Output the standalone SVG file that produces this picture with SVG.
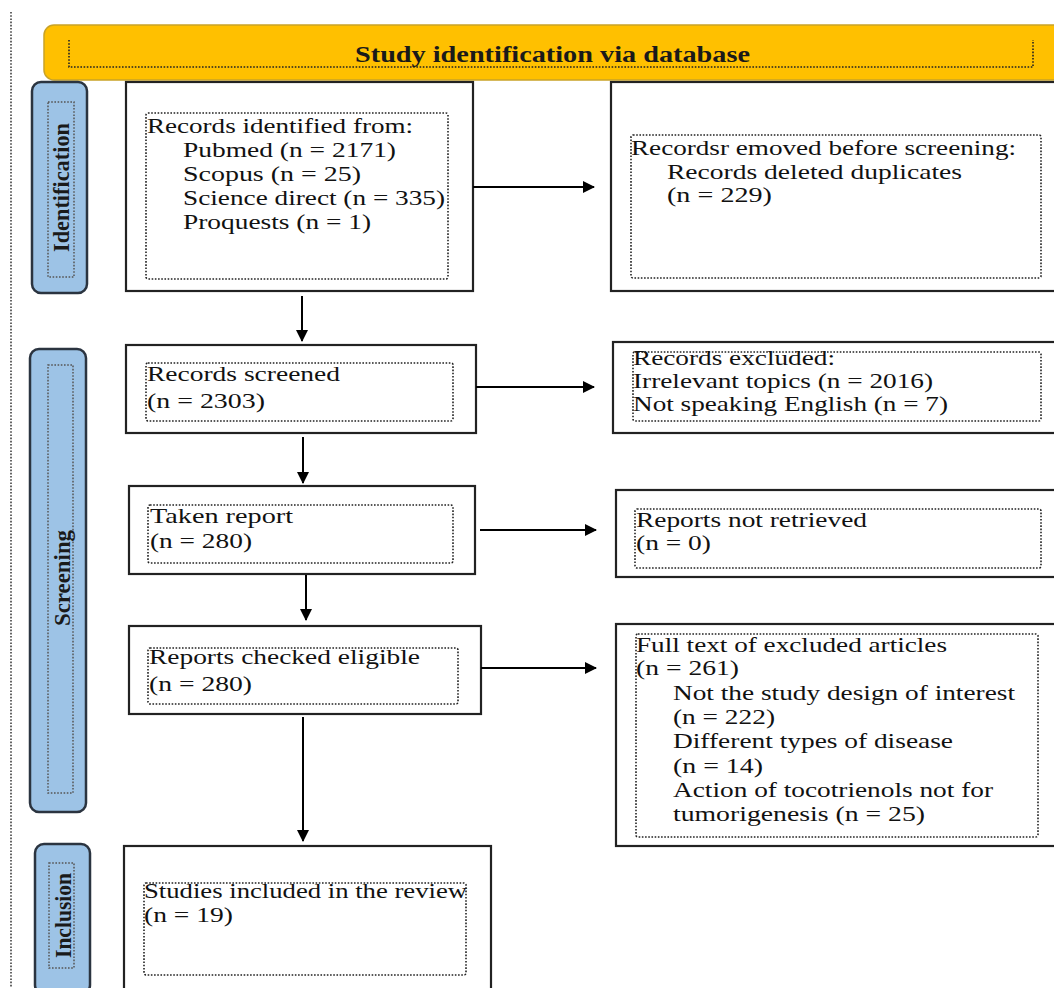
<svg xmlns="http://www.w3.org/2000/svg" width="1054" height="988" viewBox="0 0 1054 988">
<defs>
<style>
.box{fill:#fff;stroke:#222;stroke-width:2.2}
.inner{fill:none;stroke:#222;stroke-width:1.6;stroke-dasharray:1.6 1.6}
.side{fill:#9DC3E6;stroke:#2b3440;stroke-width:2.5}
.sinner{fill:none;stroke:#555;stroke-width:1.5;stroke-dasharray:1.6 1.6}
.t{font-family:"Liberation Serif","Times New Roman",serif;font-size:22px;fill:#111}
.st{font-family:"Liberation Serif","Times New Roman",serif;font-size:23px;font-weight:bold;fill:#1a1a1a}
.ht{font-family:"Liberation Serif","Times New Roman",serif;font-size:24px;font-weight:bold;fill:#1a1a1a}
.conn{stroke:#000;stroke-width:2;fill:none}
</style>
<marker id="ah" viewBox="0 0 12 12" refX="11" refY="6" markerWidth="12" markerHeight="12" markerUnits="userSpaceOnUse" orient="auto">
<path d="M0,0 L12,6 L0,12 Z" fill="#000"/>
</marker>
</defs>
<rect width="1054" height="988" fill="#fff"/>
<line x1="11" y1="12" x2="11" y2="988" stroke="#333" stroke-width="1.5" stroke-dasharray="1.6 1.6"/>

<g id="header">
<rect x="44" y="25" width="1030" height="55" rx="10" fill="#FFC000" stroke="#C9A227" stroke-width="1.5"/>
<path d="M69,40 V67 H1033 V40" class="inner"/>
<text class="ht" x="355" y="62" textLength="395" lengthAdjust="spacingAndGlyphs">Study identification via database</text>
</g>

<g id="side-identification">
<rect class="side" x="32" y="82" width="55" height="211" rx="9"/>
<rect class="sinner" x="48" y="102" width="26" height="175"/>
<text class="st" transform="translate(69,252) rotate(-90)" x="0" y="0" textLength="129" lengthAdjust="spacingAndGlyphs">Identification</text>
</g>
<g id="side-screening">
<rect class="side" x="30" y="349" width="56" height="463" rx="9"/>
<rect class="sinner" x="48" y="365" width="25" height="428"/>
<text class="st" transform="translate(70,626) rotate(-90)" x="0" y="0" textLength="96" lengthAdjust="spacingAndGlyphs">Screening</text>
</g>
<g id="side-inclusion">
<rect class="side" x="35" y="844" width="55" height="150" rx="9"/>
<rect class="sinner" x="49" y="863" width="25" height="105"/>
<text class="st" transform="translate(71,958) rotate(-90)" x="0" y="0" textLength="85" lengthAdjust="spacingAndGlyphs">Inclusion</text>
</g>

<g id="records-identified">
<rect class="box" x="126" y="82" width="347" height="209"/>
<rect class="inner" x="146" y="113" width="302" height="166" rx="2"/>
<text class="t" x="147" y="133" textLength="266" lengthAdjust="spacingAndGlyphs">Records identified from:</text>
<text class="t" x="183" y="157" textLength="213" lengthAdjust="spacingAndGlyphs">Pubmed (n = 2171)</text>
<text class="t" x="183" y="181" textLength="178" lengthAdjust="spacingAndGlyphs">Scopus (n = 25)</text>
<text class="t" x="183" y="205" textLength="262" lengthAdjust="spacingAndGlyphs">Science direct (n = 335)</text>
<text class="t" x="183" y="229" textLength="188" lengthAdjust="spacingAndGlyphs">Proquests (n = 1)</text>
</g>

<g id="records-removed">
<rect class="box" x="611" y="82" width="460" height="209"/>
<rect class="inner" x="631" y="135" width="410" height="143" rx="2"/>
<text class="t" x="631" y="155" textLength="385" lengthAdjust="spacingAndGlyphs">Recordsr emoved before screening:</text>
<text class="t" x="667" y="179" textLength="295" lengthAdjust="spacingAndGlyphs">Records deleted duplicates</text>
<text class="t" x="667" y="202" textLength="105" lengthAdjust="spacingAndGlyphs">(n = 229)</text>
</g>

<g id="records-screened">
<rect class="box" x="126" y="345" width="350" height="88"/>
<rect class="inner" x="146" y="363" width="307" height="58" rx="2"/>
<text class="t" x="147" y="381" textLength="193" lengthAdjust="spacingAndGlyphs">Records screened</text>
<text class="t" x="147" y="408" textLength="118" lengthAdjust="spacingAndGlyphs">(n = 2303)</text>
</g>

<g id="records-excluded">
<rect class="box" x="613" y="342" width="460" height="91"/>
<rect class="inner" x="633" y="352" width="408" height="69" rx="2"/>
<text class="t" x="633" y="365" textLength="202" lengthAdjust="spacingAndGlyphs">Records excluded:</text>
<text class="t" x="633" y="388" textLength="300" lengthAdjust="spacingAndGlyphs">Irrelevant topics (n = 2016)</text>
<text class="t" x="633" y="411" textLength="315" lengthAdjust="spacingAndGlyphs">Not speaking English (n = 7)</text>
</g>

<g id="taken-report">
<rect class="box" x="129" y="486" width="346" height="88"/>
<rect class="inner" x="148" y="505" width="305" height="58" rx="2"/>
<text class="t" x="150" y="523" textLength="143" lengthAdjust="spacingAndGlyphs">Taken report</text>
<text class="t" x="150" y="548" textLength="102" lengthAdjust="spacingAndGlyphs">(n = 280)</text>
</g>

<g id="reports-not-retrieved">
<rect class="box" x="616" y="490" width="460" height="87"/>
<rect class="inner" x="635" y="509" width="406" height="59" rx="2"/>
<text class="t" x="636" y="527" textLength="231" lengthAdjust="spacingAndGlyphs">Reports not retrieved</text>
<text class="t" x="636" y="550" textLength="75" lengthAdjust="spacingAndGlyphs">(n = 0)</text>
</g>

<g id="reports-checked">
<rect class="box" x="129" y="626" width="352" height="88"/>
<rect class="inner" x="148" y="648" width="310" height="56" rx="2"/>
<text class="t" x="149" y="664" textLength="271" lengthAdjust="spacingAndGlyphs">Reports checked eligible</text>
<text class="t" x="149" y="691" textLength="103" lengthAdjust="spacingAndGlyphs">(n = 280)</text>
</g>

<g id="full-text-excluded">
<rect class="box" x="616" y="624" width="460" height="222"/>
<rect class="inner" x="636" y="634" width="402" height="203" rx="2"/>
<text class="t" x="636" y="652" textLength="311" lengthAdjust="spacingAndGlyphs">Full text of excluded articles</text>
<text class="t" x="636" y="675" textLength="103" lengthAdjust="spacingAndGlyphs">(n = 261)</text>
<text class="t" x="673" y="700" textLength="342" lengthAdjust="spacingAndGlyphs">Not the study design of interest</text>
<text class="t" x="673" y="724" textLength="102" lengthAdjust="spacingAndGlyphs">(n = 222)</text>
<text class="t" x="673" y="748" textLength="280" lengthAdjust="spacingAndGlyphs">Different types of disease</text>
<text class="t" x="673" y="773" textLength="90" lengthAdjust="spacingAndGlyphs">(n = 14)</text>
<text class="t" x="673" y="797" textLength="320" lengthAdjust="spacingAndGlyphs">Action of tocotrienols not for</text>
<text class="t" x="673" y="821" textLength="252" lengthAdjust="spacingAndGlyphs">tumorigenesis (n = 25)</text>
</g>

<g id="studies-included">
<rect class="box" x="124" y="846" width="367" height="150"/>
<rect class="inner" x="144" y="883" width="322" height="92" rx="2"/>
<text class="t" x="144" y="898" textLength="323" lengthAdjust="spacingAndGlyphs">Studies included in the review</text>
<text class="t" x="144" y="922" textLength="89" lengthAdjust="spacingAndGlyphs">(n = 19)</text>
</g>

<g id="connectors">
<line class="conn" x1="473" y1="187" x2="594" y2="187" marker-end="url(#ah)"/>
<line class="conn" x1="302" y1="296" x2="302" y2="341" marker-end="url(#ah)"/>
<line class="conn" x1="476" y1="387" x2="594" y2="387" marker-end="url(#ah)"/>
<line class="conn" x1="303" y1="437" x2="303" y2="483" marker-end="url(#ah)"/>
<line class="conn" x1="480" y1="530" x2="596" y2="530" marker-end="url(#ah)"/>
<line class="conn" x1="306" y1="575" x2="306" y2="620" marker-end="url(#ah)"/>
<line class="conn" x1="481" y1="668" x2="596" y2="668" marker-end="url(#ah)"/>
<line class="conn" x1="303" y1="717" x2="303" y2="841" marker-end="url(#ah)"/>
</g>
</svg>
